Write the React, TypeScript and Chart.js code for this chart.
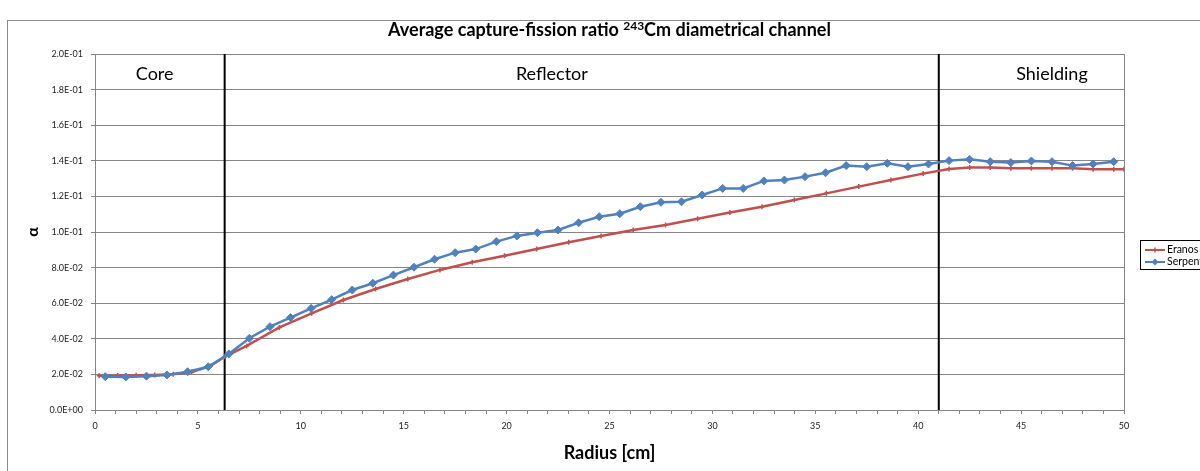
import React, { useEffect, useRef } from 'react';
import { Chart, registerables } from 'chart.js';

Chart.register(...registerables);

const TITLE_BEFORE = 'Average capture-fission ratio ';
const TITLE_SUP = '243';
const TITLE_AFTER = 'Cm diametrical channel';
const X_TITLE = 'Radius [cm]';
const Y_TITLE = 'α';
const SERIES_NAMES = ['Eranos', 'Serpent'];

const ERANOS_X = [0.2, 1.1, 2.0, 2.9, 3.8, 4.7, 5.6, 6.3, 7.37, 8.96, 10.53, 12.07, 13.63, 15.2, 16.76, 18.33, 19.9, 21.46, 23.02, 24.59, 26.15, 27.72, 29.28, 30.85, 32.41, 33.98, 35.54, 37.11, 38.67, 40.24, 41.5, 42.5, 43.5, 44.5, 45.5, 46.5, 47.5, 48.5, 49.5, 50];
const ERANOS_Y = [0.0193, 0.0194, 0.0195, 0.0197, 0.0201, 0.0213, 0.0246, 0.0299, 0.036, 0.0464, 0.0543, 0.0618, 0.068, 0.0736, 0.0787, 0.083, 0.0867, 0.0904, 0.0942, 0.0978, 0.1011, 0.1039, 0.1075, 0.1109, 0.1142, 0.118, 0.1217, 0.1255, 0.1292, 0.1328, 0.1354, 0.1363, 0.1363, 0.1358, 0.1358, 0.1358, 0.1358, 0.1352, 0.1352, 0.1352];

const SERPENT_X = [0.5, 1.5, 2.5, 3.5, 4.5, 5.5, 6.5, 7.5, 8.5, 9.5, 10.5, 11.5, 12.5, 13.5, 14.5, 15.5, 16.5, 17.5, 18.5, 19.5, 20.5, 21.5, 22.5, 23.5, 24.5, 25.5, 26.5, 27.5, 28.5, 29.5, 30.5, 31.5, 32.5, 33.5, 34.5, 35.5, 36.5, 37.5, 38.5, 39.5, 40.5, 41.5, 42.5, 43.5, 44.5, 45.5, 46.5, 47.5, 48.5, 49.5];
const SERPENT_Y = [0.0187, 0.0186, 0.019, 0.0197, 0.0215, 0.0243, 0.0315, 0.0403, 0.0468, 0.0519, 0.0571, 0.062, 0.0674, 0.0712, 0.0758, 0.0802, 0.0847, 0.0884, 0.0904, 0.0946, 0.0978, 0.0996, 0.1011, 0.1052, 0.1086, 0.1103, 0.1142, 0.1167, 0.117, 0.1208, 0.1245, 0.1245, 0.1287, 0.1292, 0.1311, 0.1333, 0.1373, 0.1367, 0.1386, 0.1367, 0.1382, 0.1401, 0.1408, 0.1395, 0.139, 0.1399, 0.1395, 0.1373, 0.1382, 0.1395];

const REGION_BOUNDARIES = [6.3, 41];
const REGION_LABELS = ['Core', 'Reflector', 'Shielding'];
const REGION_LABEL_X = [2.9, 22.2, 46.5];

const X_MIN = 0;
const X_MAX = 50;
const X_STEP = 1;
const X_LABEL_STEP = 5;
const Y_MIN = 0;
const Y_MAX = 0.2;
const Y_STEP = 0.02;

const RED = '#C0504D';
const BLUE = '#4F81BD';
const GRID = '#868686';
const FONT = 'Lato, "Open Sans", sans-serif';

function fmtExp(v: number): string {
  const s = Number(v).toExponential(1);
  const [m, e] = s.split('e');
  const sign = e[0] === '-' ? '-' : '+';
  const digits = e.replace(/^[+-]/, '').padStart(2, '0');
  return `${m}E${sign}${digits}`;
}

const decorPlugin = {
  id: 'decor',
  beforeDatasetsDraw(chart: any) {
    const { ctx, chartArea: a, scales } = chart;
    const x = scales.x;
    ctx.save();
    ctx.strokeStyle = GRID;
    ctx.lineWidth = 1;
    ctx.beginPath();
    ctx.moveTo(Math.round(a.right) + 0.5, a.top);
    ctx.lineTo(Math.round(a.right) + 0.5, a.bottom);
    ctx.stroke();

    ctx.strokeStyle = '#000';
    ctx.lineWidth = 2;
    REGION_BOUNDARIES.forEach((b) => {
      const px = x.getPixelForValue(b);
      ctx.beginPath();
      ctx.moveTo(px, a.top);
      ctx.lineTo(px, a.bottom);
      ctx.stroke();
    });

    ctx.fillStyle = '#000';
    ctx.font = `18px ${FONT}`;
    ctx.textAlign = 'center';
    ctx.textBaseline = 'middle';
    REGION_LABELS.forEach((l, i) => {
      ctx.fillText(l, x.getPixelForValue(REGION_LABEL_X[i]), a.top + 20);
    });
    ctx.restore();
  },
  afterDraw(chart: any) {
    const { ctx, chartArea: a } = chart;
    ctx.save();
    // title with superscript
    const big = `bold 18px ${FONT}`;
    const small = `bold 12px ${FONT}`;
    ctx.textBaseline = 'alphabetic';
    ctx.textAlign = 'left';
    ctx.font = big;
    const w1 = ctx.measureText(TITLE_BEFORE).width;
    const w3 = ctx.measureText(TITLE_AFTER).width;
    ctx.font = small;
    const w2 = ctx.measureText(TITLE_SUP).width;
    const total = w1 + w2 + w3;
    const cx = (a.left + a.right) / 2;
    let tx = cx - total / 2;
    const baseY = a.top - 18;
    ctx.fillStyle = '#000';
    ctx.font = big;
    ctx.fillText(TITLE_BEFORE, tx, baseY);
    tx += w1;
    ctx.font = small;
    ctx.fillText(TITLE_SUP, tx, baseY - 6);
    tx += w2;
    ctx.font = big;
    ctx.fillText(TITLE_AFTER, tx, baseY);

    // legend
    const lx = a.right + 16;
    const ly = a.top + 186;
    ctx.strokeStyle = '#000';
    ctx.lineWidth = 1;
    ctx.strokeRect(Math.round(lx) + 0.5, Math.round(ly) + 0.5, 100, 29);
    const ds = chart.data.datasets;
    ds.forEach((d: any, i: number) => {
      const ry = ly + 10 + i * 12;
      ctx.strokeStyle = d.borderColor;
      ctx.lineWidth = 2;
      ctx.beginPath();
      ctx.moveTo(lx + 5, ry);
      ctx.lineTo(lx + 25, ry);
      ctx.stroke();
      const mx = lx + 15;
      if (d.pointStyle === 'rectRot') {
        ctx.fillStyle = d.borderColor;
        ctx.beginPath();
        ctx.moveTo(mx, ry - 3.5);
        ctx.lineTo(mx + 3.5, ry);
        ctx.lineTo(mx, ry + 3.5);
        ctx.lineTo(mx - 3.5, ry);
        ctx.closePath();
        ctx.fill();
      } else {
        ctx.lineWidth = 1.5;
        ctx.beginPath();
        ctx.moveTo(mx, ry - 2.5);
        ctx.lineTo(mx, ry + 2.5);
        ctx.moveTo(mx - 2.5, ry);
        ctx.lineTo(mx + 2.5, ry);
        ctx.stroke();
      }
      ctx.fillStyle = '#000';
      ctx.font = `10.5px ${FONT}`;
      ctx.textAlign = 'left';
      ctx.textBaseline = 'middle';
      ctx.fillText(d.label, lx + 27, ry);
    });
    ctx.restore();
  },
};

export default function App() {
  const ref = useRef<HTMLCanvasElement | null>(null);

  useEffect(() => {
    document.body.style.margin = '0';
    document.body.style.overflow = 'hidden';
    const canvas = ref.current;
    if (!canvas) return;
    const eranos = ERANOS_X.map((x, i) => ({ x, y: ERANOS_Y[i] }));
    const serpent = SERPENT_X.map((x, i) => ({ x, y: SERPENT_Y[i] }));
    const chart = new Chart(canvas, {
      type: 'line',
      data: {
        datasets: [
          {
            label: SERIES_NAMES[0],
            data: eranos,
            borderColor: RED,
            backgroundColor: RED,
            borderWidth: 2.5,
            pointStyle: 'cross',
            pointRadius: 2.5,
            pointBorderWidth: 1.5,
            pointBorderColor: RED,
            tension: 0,
            order: 2,
          },
          {
            label: SERIES_NAMES[1],
            data: serpent,
            borderColor: BLUE,
            backgroundColor: BLUE,
            borderWidth: 2.5,
            pointStyle: 'rectRot',
            pointRadius: 4,
            pointBorderWidth: 1,
            pointBorderColor: BLUE,
            pointBackgroundColor: BLUE,
            tension: 0,
            order: 1,
          },
        ],
      },
      options: {
        animation: false,
        responsive: false,
        devicePixelRatio: 1,
        layout: { padding: { top: 33, right: 124, bottom: 0, left: 0 } },
        plugins: {
          legend: { display: false },
          title: { display: false },
          tooltip: { enabled: false },
        },
        scales: {
          x: {
            type: 'linear',
            min: X_MIN,
            max: X_MAX,
            afterFit: (s: any) => { s.height = 61; },
            ticks: {
              stepSize: X_STEP,
              autoSkip: false,
              maxRotation: 0,
              padding: 7,
              color: '#222',
              font: { family: FONT, size: 9 },
              callback: (v: any) => (Number(v) % X_LABEL_STEP === 0 ? String(v) : ''),
            },
            grid: { drawOnChartArea: false, drawTicks: true, tickLength: 4, color: GRID },
            border: { display: true, color: GRID, width: 1 },
            title: {
              display: true,
              text: X_TITLE,
              font: { family: FONT, size: 18, weight: 'bold' },
              color: '#000',
              padding: { top: 0, bottom: 7 },
            },
          },
          y: {
            type: 'linear',
            min: Y_MIN,
            max: Y_MAX,
            afterFit: (s: any) => { s.width = 87; },
            ticks: {
              stepSize: Y_STEP,
              padding: 8,
              color: '#222',
              font: { family: FONT, size: 9 },
              callback: (v: any) => fmtExp(Number(v)),
            },
            grid: { drawTicks: true, tickLength: 4, color: GRID, lineWidth: 1 },
            border: { display: true, color: GRID, width: 1 },
            title: {
              display: true,
              text: Y_TITLE,
              font: { family: FONT, size: 16, weight: 'bold' },
              color: '#000',
              padding: { top: 15, bottom: 0 },
            },
          },
        },
      },
      plugins: [decorPlugin],
    } as any);
    return () => chart.destroy();
  }, []);

  return (
    <div style={{ position: 'absolute', left: 0, top: 0, width: 1200, height: 471, overflow: 'hidden', background: '#fff' }}>
      <div
        style={{
          position: 'absolute',
          left: 7,
          top: 20,
          width: 1240,
          height: 460,
          borderLeft: '1px solid #8c8c8c',
          borderTop: '1px solid #8c8c8c',
        }}
      >
        <canvas ref={ref} width={1240} height={450} style={{ display: 'block' }} />
      </div>
    </div>
  );
}
